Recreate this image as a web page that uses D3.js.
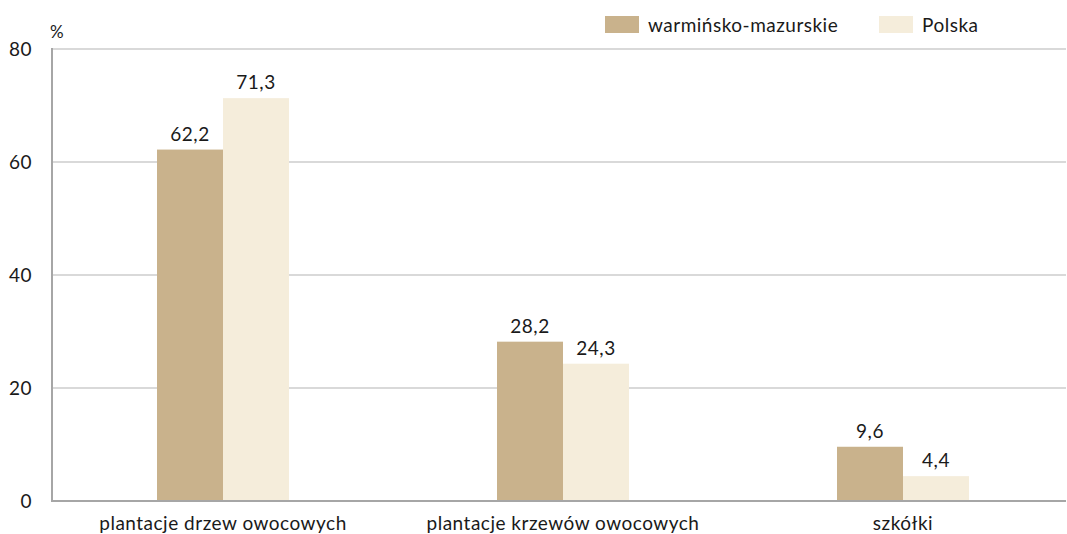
<!DOCTYPE html>
<html>
<head>
<meta charset="utf-8">
<script src="https://cdn.jsdelivr.net/npm/d3@7.9.0/dist/d3.min.js"></script>
<style>
  body { margin: 0; background: #fff; }
  svg { font-family: Lato, "Open Sans", sans-serif; font-size: 19px; letter-spacing: 0.5px; fill: #1a1a1a; }
</style>
</head>
<body>
<svg width="1067" height="534"></svg>
<script>
const categories = ["plantacje drzew owocowych", "plantacje krzewów owocowych", "szkółki"];
const seriesNames = ["warmińsko-mazurskie", "Polska"];
const regionValues = [62.2, 28.2, 9.6];
const polandValues = [71.3, 24.3, 4.4];
const yTicks = [0, 20, 40, 60, 80];
const colors = ["#c9b28c", "#f5eddb"];

const svg = d3.select("svg");
const plotLeft = 52, plotRight = 1066, plotTop = 49, plotBottom = 501;

const x = d3.scaleBand().domain(categories).range([53, 1073]);
const x1 = d3.scaleBand().domain(seriesNames).range([x.bandwidth() / 2 - 66, x.bandwidth() / 2 + 66]);
const y = d3.scaleLinear().domain([0, 80]).range([plotBottom, plotTop]);

// gridlines
svg.append("g").selectAll("line")
  .data(yTicks.filter(d => d > 0))
  .join("line")
  .attr("x1", plotLeft).attr("x2", plotRight)
  .attr("y1", d => y(d)).attr("y2", d => y(d))
  .attr("stroke", "#d9d9d9").attr("stroke-width", 2);

// tick labels
svg.append("g").selectAll("text")
  .data(yTicks)
  .join("text")
  .attr("x", 32).attr("y", d => y(d) + 7)
  .attr("text-anchor", "end")
  .text(d => d);

svg.append("text").attr("x", 50).attr("y", 38).attr("font-size", 17).text("%");

const rows = categories.map((c, i) => ({ cat: c, vals: [regionValues[i], polandValues[i]] }));

const groups = svg.append("g").selectAll("g")
  .data(rows)
  .join("g")
  .attr("transform", d => `translate(${x(d.cat)},0)`);

groups.selectAll("rect")
  .data(d => d.vals.map((v, j) => ({ name: seriesNames[j], v, j })))
  .join("rect")
  .attr("x", d => x1(d.name))
  .attr("width", x1.bandwidth())
  .attr("y", d => y(d.v))
  .attr("height", d => y(0) - y(d.v))
  .attr("fill", d => colors[d.j]);

groups.selectAll("text.val")
  .data(d => d.vals.map((v, j) => ({ name: seriesNames[j], v, j })))
  .join("text")
  .attr("class", "val")
  .attr("x", d => x1(d.name) + x1.bandwidth() / 2)
  .attr("y", d => y(d.v) - 9)
  .attr("text-anchor", "middle")
  .text(d => d3.format(".1f")(d.v).replace(".", ","));

// axis lines
svg.append("line").attr("x1", plotLeft).attr("x2", plotLeft).attr("y1", plotTop - 1).attr("y2", plotBottom + 1)
  .attr("stroke", "#a6a6a6").attr("stroke-width", 2);
svg.append("line").attr("x1", plotLeft - 1).attr("x2", plotRight).attr("y1", plotBottom).attr("y2", plotBottom)
  .attr("stroke", "#a6a6a6").attr("stroke-width", 2);

// category labels
svg.append("g").selectAll("text")
  .data(categories)
  .join("text")
  .attr("x", d => x(d) + x.bandwidth() / 2)
  .attr("y", 530)
  .attr("text-anchor", "middle")
  .text(d => d);

// legend
const legendX = [605, 879];
const legend = svg.append("g").selectAll("g")
  .data(seriesNames)
  .join("g")
  .attr("transform", (d, i) => `translate(${legendX[i]},16)`);
legend.append("rect").attr("width", 34).attr("height", 17).attr("fill", (d, i) => colors[i]);
legend.append("text").attr("x", 43).attr("y", 16).text(d => d);
</script>
</body>
</html>
